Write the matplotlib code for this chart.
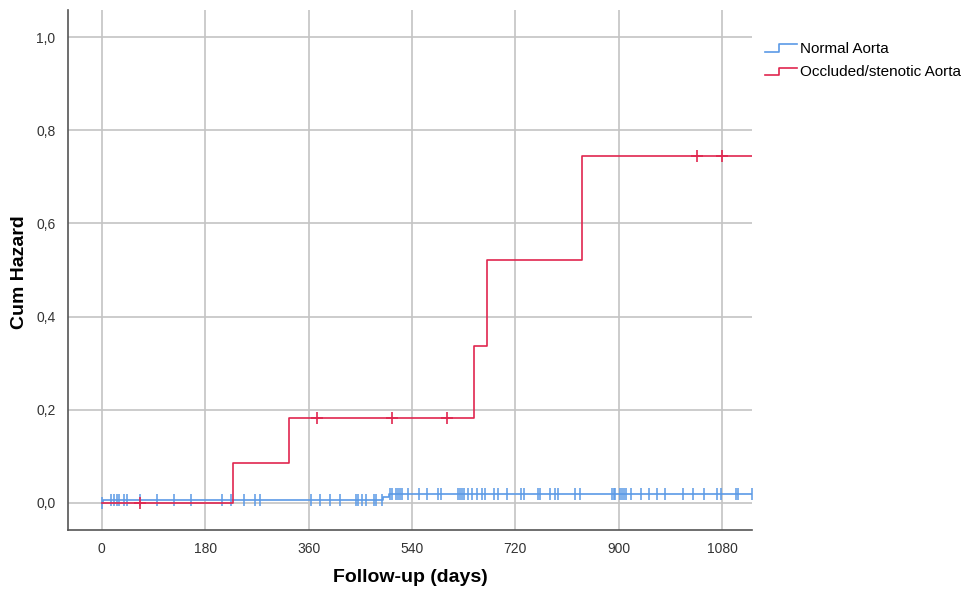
import matplotlib
matplotlib.use("Agg")
import matplotlib.pyplot as plt
from matplotlib.lines import Line2D
from matplotlib.legend_handler import HandlerBase
from matplotlib.ticker import FuncFormatter

plt.rcParams["font.family"] = ["Liberation Sans", "DejaVu Sans"]

# cumulative hazard steps (days, value)
normal_t = [0, 2, 490, 500, 1132]
normal_h = [0.0, 0.007, 0.013, 0.019, 0.019]
occl_t = [0, 228, 326, 648, 671, 836, 1132]
occl_h = [0.0, 0.086, 0.182, 0.337, 0.521, 0.745, 0.745]

# censored observations (days)
normal_cens = [0, 16, 21, 26, 30, 38, 44, 66, 96, 125, 155, 209, 225, 247,
               267, 275, 364, 380, 397, 415, 442, 446, 453, 460, 474, 477,
               488, 502, 505, 512, 516, 519, 523, 533, 552, 566, 585, 590,
               620, 624, 627, 631, 638, 645, 653, 662, 667, 683, 690, 706,
               730, 735, 759, 763, 780, 789, 794, 824, 833, 888, 892, 894,
               902, 906, 909, 913, 921, 939, 953, 967, 981, 1012, 1029, 1049,
               1071, 1078, 1104, 1108, 1132]
occl_cens = [66, 375, 505, 601, 1037, 1080]

x_ticks = [0, 180, 360, 540, 720, 900, 1080]
y_ticks = [0.0, 0.2, 0.4, 0.6, 0.8, 1.0]

blue = "#5b9ae6"
red = "#e0264f"


def hazard_at(ts, hs, d):
    v = hs[0]
    for t, h in zip(ts, hs):
        if t <= d:
            v = h
    return v


class StepHandler(HandlerBase):
    def create_artists(self, legend, orig, xd, yd, w, h, fontsize, trans):
        xs = [xd, xd + w * 0.45, xd + w * 0.45, xd + w]
        ys = [yd + h * 0.1, yd + h * 0.1, yd + h * 0.8, yd + h * 0.8]
        ln = Line2D(xs, ys, color=orig.get_color(), lw=1.2, transform=trans)
        return [ln]


fig = plt.figure(figsize=(9.68, 5.9), dpi=100)
ax = fig.add_axes([0.0702, 0.1017, 0.7067, 0.8813])

ax.set_xticks(x_ticks)
ax.set_yticks(y_ticks)
ax.grid(True, color="#c4c4c4", lw=1.2)
ax.set_axisbelow(True)

l1, = ax.step(normal_t, normal_h, where="post", color=blue, lw=1.2,
              label="Normal Aorta", zorder=3)
l2, = ax.step(occl_t, occl_h, where="post", color=red, lw=1.2,
              label="Occluded/stenotic Aorta", zorder=4)
ax.plot(normal_cens, [hazard_at(normal_t, normal_h, d) for d in normal_cens],
        ls="none", marker="|", ms=9, mew=1.1, color=blue, zorder=3)
ax.plot(occl_cens, [hazard_at(occl_t, occl_h, d) for d in occl_cens],
        ls="none", marker="+", ms=9, mew=1.2, color=red, zorder=4)

ax.set_xlim(-59, 1132)
ax.set_ylim(-0.058, 1.058)
ax.yaxis.set_major_formatter(FuncFormatter(lambda v, p: f"{v:.1f}".replace(".", ",")))

for s in ["top", "right"]:
    ax.spines[s].set_visible(False)
for s in ["left", "bottom"]:
    ax.spines[s].set_color("#555555")
    ax.spines[s].set_linewidth(1.2)
ax.tick_params(length=0, labelsize=10, colors="#333333", pad=9)

fig.text(410 / 968, 1 - 578 / 590, "Follow-up (days)", fontsize=14,
         fontweight="bold", ha="center", va="center")
fig.text(20 / 968, 1 - 272 / 590, "Cum Hazard", fontsize=14,
         fontweight="bold", ha="center", va="center", rotation=90)

fig.legend(handles=[l1, l2], loc="upper left", bbox_to_anchor=(765 / 968, 1 - 42 / 590),
           frameon=False, fontsize=11, handlelength=2.1, handletextpad=0.2,
           labelspacing=0.6, borderaxespad=0, borderpad=0,
           handler_map={Line2D: StepHandler()})

fig.savefig("out.png", dpi=100)
